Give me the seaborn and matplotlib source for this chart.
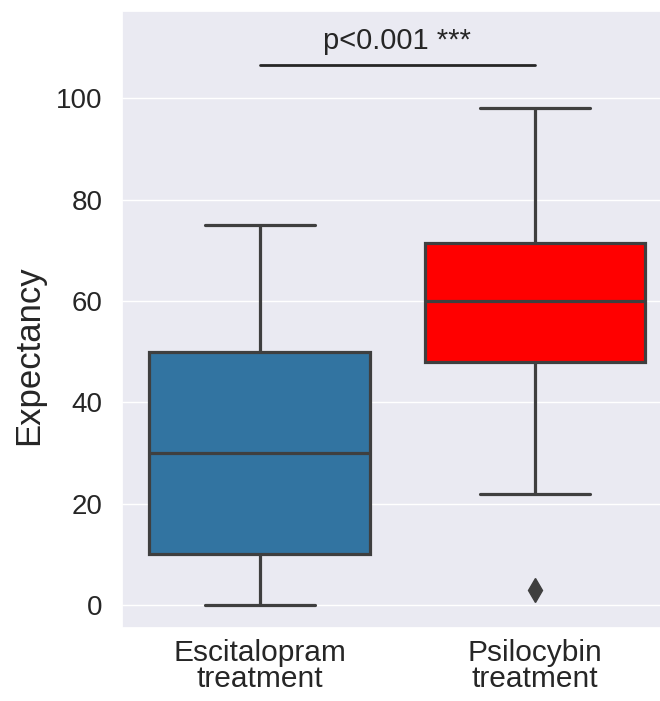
import matplotlib
matplotlib.use("Agg")
import matplotlib.pyplot as plt
import seaborn as sns
import pandas as pd

# Data (values chosen to reproduce the plotted box statistics)
groups = ["Escitalopram\ntreatment", "Psilocybin\ntreatment"]
escitalopram_values = [0, 10, 30, 50, 75]
psilocybin_values = [3, 22, 48, 55, 60, 65, 71.5, 85, 98]
box_colors = ["#3274a1", "#ff0000"]
y_ticks = [0, 20, 40, 60, 80, 100]
sig_text = "p<0.001 ***"
sig_level = 106.5

df = pd.DataFrame({
    "group": [groups[0]] * len(escitalopram_values) + [groups[1]] * len(psilocybin_values),
    "Expectancy": escitalopram_values + psilocybin_values,
})

sns.set_theme(style="darkgrid")
plt.rcParams["font.family"] = ["Liberation Sans", "DejaVu Sans"]

fig = plt.figure(figsize=(6.6, 7.01), dpi=100)
ax = fig.add_axes([122 / 660, 1 - 628 / 701, 550 / 660, 617 / 701])

sns.boxplot(data=df, x="group", y="Expectancy", hue="group", palette=box_colors,
            saturation=1, width=0.8, linewidth=2.3, linecolor="#3f3f3f",
            flierprops=dict(marker="d", markersize=12, markerfacecolor="#3f3f3f",
                            markeredgecolor="#3f3f3f"),
            legend=False, ax=ax)

ax.set_xlim(-0.5, 1.5)
ax.set_ylim(-4.5, 117.2)
ax.set_yticks(y_ticks)
ax.tick_params(axis="y", labelsize=20, colors="#262626", pad=8)
ax.tick_params(axis="x", labelsize=21.5, colors="#262626", pad=2)
for lbl in ax.get_xticklabels():
    lbl.set_linespacing(0.9)
ax.set_xlabel("")
ax.set_ylabel("Expectancy", fontsize=25, color="#262626")
ax.yaxis.set_label_coords(-0.14, 0.442)

ax.plot([0, 1], [sig_level, sig_level], color="#262626", lw=2)
ax.text(0.5, sig_level + 2, sig_text, ha="center", va="bottom", fontsize=21, color="#262626")

fig.savefig("out.png", dpi=100)
